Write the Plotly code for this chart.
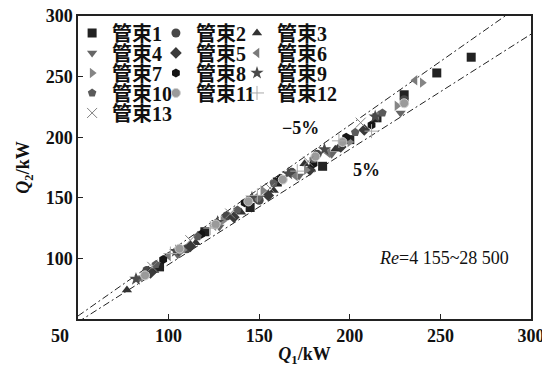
import plotly.graph_objects as go

names = ["管束1", "管束2", "管束3", "管束4", "管束5", "管束6", "管束7",
         "管束8", "管束9", "管束10", "管束11", "管束12", "管束13"]

q1 = [
    [95, 120, 145, 160, 185, 200, 215, 230, 248, 267],
    [88, 110, 132, 150, 168, 182, 230],
    [77, 92, 115, 140, 158, 175, 192],
    [84, 105, 128, 150, 172, 190, 228],
    [90, 112, 136, 155, 178, 195, 208],
    [100, 125, 148, 170, 188, 215, 236],
    [86, 108, 130, 152, 176, 200, 226, 240],
    [97, 118, 142, 162, 180, 198, 212],
    [82, 104, 127, 146, 166, 186, 214],
    [93, 116, 138, 158, 180, 203, 218],
    [87, 106, 126, 144, 163, 181, 196, 230],
    [101, 123, 149, 171, 194, 212],
    [91, 112, 134, 156, 177, 206],
]
q2 = [
    [93, 122, 142, 163, 176, 198, 216, 235, 253, 266],
    [90, 108, 135, 148, 171, 186, 231],
    [74, 90, 113, 138, 156, 178, 190],
    [84, 103, 126, 150, 168, 186, 220],
    [88, 110, 134, 152, 173, 192, 206],
    [102, 127, 150, 168, 187, 218, 247],
    [85, 107, 131, 156, 173, 196, 226, 245],
    [99, 120, 146, 166, 178, 200, 210],
    [83, 106, 130, 150, 170, 190, 217],
    [95, 118, 140, 162, 182, 204, 220],
    [86, 108, 128, 147, 165, 184, 196, 228],
    [104, 125, 152, 172, 197, 205],
    [93, 115, 137, 158, 180, 212],
]

symbols = ["square", "circle", "triangle-up", "triangle-down", "diamond",
           "triangle-left", "triangle-right", "hexagon", "star", "pentagon",
           "circle", "cross-thin", "x-thin"]
colors = ["#222222", "#484848", "#333333", "#666666", "#3a3a3a", "#7a7a7a",
          "#858585", "#151515", "#4a4a4a", "#5a5a5a", "#9a9a9a", "#aaaaaa",
          "#808080"]

# reference lines (-5% and 5%)
line_x = [50, 300]
upper_ratio = 1.05
lower_ratio = 0.95

x_ticks = [100, 150, 200, 250, 300]
y_ticks = [100, 150, 200, 250, 300]

SERIF = "Liberation Serif, Noto Sans CJK SC, serif"
TXT = "#111111"
# the page body has an 8px default margin; the figure is sized to fill the rest
W, H = 542, 364

fig = go.Figure()

dash = "7px,3px,2px,3px"
fig.add_trace(go.Scatter(x=line_x, y=[v * upper_ratio for v in line_x], mode="lines",
                         line=dict(color="#222", width=1, dash=dash),
                         showlegend=False, hoverinfo="skip"))
fig.add_trace(go.Scatter(x=line_x, y=[v * lower_ratio for v in line_x], mode="lines",
                         line=dict(color="#222", width=1, dash=dash),
                         showlegend=False, hoverinfo="skip"))

# legend layout: 3 columns x 5 rows, one small legend per entry
col_x = [-0.013, 0.1720, 0.351]
row_y = [0.944, 0.878, 0.812, 0.746, 0.680]
legend_layouts = {}
for i, nm in enumerate(names):
    key = "legend" if i == 0 else f"legend{i + 1}"
    r, c = divmod(i, 3)
    legend_layouts[key] = dict(
        x=col_x[c], xanchor="left", y=row_y[r], yanchor="middle",
        bgcolor="rgba(0,0,0,0)", borderwidth=0,
        font=dict(family=SERIF, size=20, color=TXT, weight="bold"),
        itemwidth=30,
    )
    sym = symbols[i]
    if sym.endswith("-thin"):
        marker = dict(symbol=sym, size=10, color=colors[i],
                      line=dict(color=colors[i], width=1))
    elif i == 10:
        marker = dict(symbol=sym, size=9, color=colors[i],
                      line=dict(color="#d0d0d0", width=1))
    else:
        marker = dict(symbol=sym, size=10 if sym == "star" else 9, color=colors[i],
                      line=dict(width=0))
    fig.add_trace(go.Scatter(x=q1[i], y=q2[i], mode="markers", name=nm,
                             marker=marker, legend=key))

axis_common = dict(range=[50, 300], ticks="inside", ticklen=5, tickwidth=1.2,
                   tickcolor="#222", showline=True, linecolor="#222", linewidth=1.5,
                   mirror=True, showgrid=False, zeroline=False, automargin=False,
                   ticklabeloverflow="allow",
                   tickfont=dict(family=SERIF, size=18, color=TXT, weight="bold"))

fig.update_layout(
    width=W, height=H,
    margin=dict(l=70, r=19, t=8, b=53, autoexpand=False),
    paper_bgcolor="white", plot_bgcolor="white",
    font=dict(family=SERIF, size=16, color=TXT),
    xaxis=dict(tickvals=x_ticks, **axis_common,
               title=dict(text="<i>Q</i><sub>1</sub>/kW", standoff=2,
                          font=dict(family=SERIF, size=18, color=TXT, weight="bold"))),
    yaxis=dict(tickvals=y_ticks, **axis_common,
               title=dict(text="<i>Q</i><sub>2</sub>/kW", standoff=11,
                          font=dict(family=SERIF, size=18, color=TXT, weight="bold"))),
    annotations=[
        dict(text="<b>50</b>", xref="paper", yref="paper", x=0, y=0, xshift=-18, yshift=-5,
             xanchor="center", yanchor="top", showarrow=False,
             font=dict(family=SERIF, size=18, color=TXT)),
        dict(text="<b>\u22125%</b>", x=173, y=208, showarrow=False,
             font=dict(family=SERIF, size=18, color=TXT)),
        dict(text="<b>5%</b>", x=209, y=173, showarrow=False,
             font=dict(family=SERIF, size=18, color=TXT)),
        dict(text="<i>Re</i>=4 155~28 500", x=252, y=100.5, showarrow=False,
             font=dict(family=SERIF, size=18, color=TXT)),
    ],
    **legend_layouts,
)

fig.write_html("out.html")
